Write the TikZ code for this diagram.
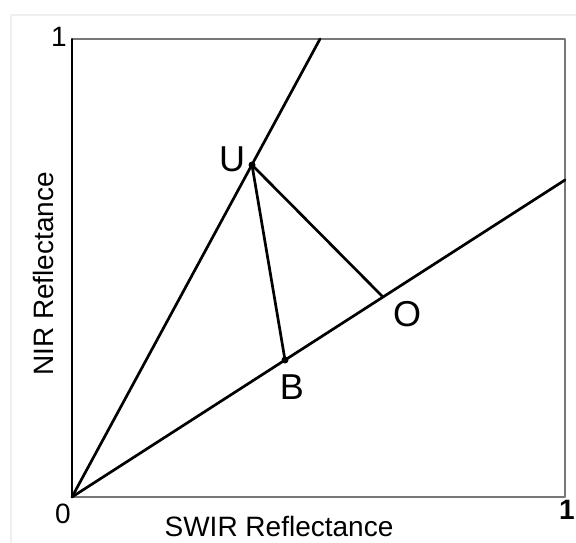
\documentclass[tikz,border=0pt]{standalone}
\usepackage{fontspec}
\setmainfont{Liberation Sans}
\usetikzlibrary{calc}
\definecolor{frameGray}{HTML}{EFEFEF}
\definecolor{boxGray}{HTML}{777777}

\begin{document}
\begin{tikzpicture}[x=1pt,y=-1pt,line cap=round,line join=round]
\useasboundingbox[fill=white] (0,0) rectangle (576,543);
\tikzset{ray/.style={draw=black,line width=2.7pt},axisbox/.style={draw=boxGray,line width=1.6pt},ptdot/.style={circle,fill=black,inner sep=0pt,minimum size=7pt},ptlabel/.style={font=\fontsize{36}{38}\selectfont,text=black},ticklabel/.style={font=\fontsize{28}{30}\selectfont,text=black},axislabel/.style={font=\fontsize{28}{30}\selectfont,text=black}}
% faint outer frame
\draw[frameGray,line width=1.2pt] (11,543) -- (11,15) -- (576,15);
% axes
\coordinate (orig) at (72,497);
\coordinate (topright) at (565,39);
\draw[axisbox] (orig) rectangle (topright);
\draw[black,line width=1.6pt] (72,39) -- (orig);
% soil line and upper ray
\coordinate (topend) at (320,39);
\coordinate (rightend) at (565,180);
\coordinate (U) at (252,165);
\coordinate (B) at (285,360);
\coordinate (O) at (383,297);
\draw[ray] (orig) -- (topend);
\draw[ray] (orig) -- (rightend);
\draw[ray] (U) -- (O);
\draw[ray] (U) -- (B);
\node[ptdot] (Udot) at (U) {};
\node[ptdot] (Bdot) at (B) {};
\node[ptlabel] (Ulab) at (232,159) {U};
\node[ptlabel] (Olab) at (407,314) {O};
\node[ptlabel] (Blab) at (292,387) {B};
% tick values
\node[ticklabel] (ytop) at (59,37) {1};
\node[ticklabel] (zero) at (63,514) {0};
\node[ticklabel,font=\fontsize{28}{30}\selectfont\bfseries] (xend) at (567,510) {1};
% axis titles
\node[axislabel] (xlab) at (279,526) {SWIR Reflectance};
\node[axislabel,rotate=90] (ylab) at (43,274) {NIR Reflectance};
\end{tikzpicture}
\end{document}
